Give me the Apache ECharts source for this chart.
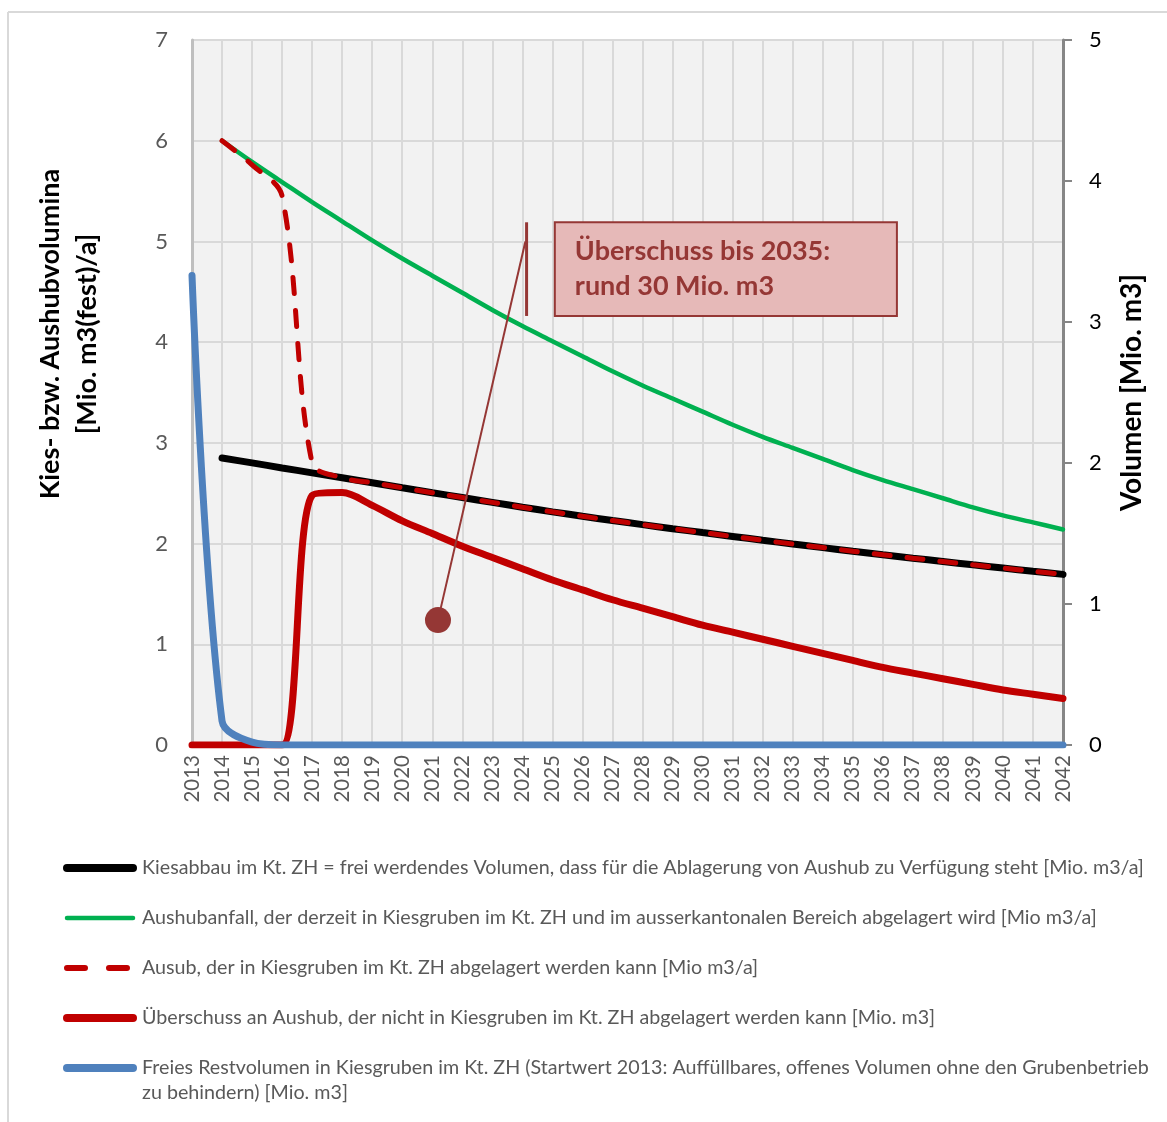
<!DOCTYPE html>
<html>
<head>
<meta charset="utf-8">
<script src="https://cdn.jsdelivr.net/npm/echarts@6/dist/echarts.min.js"></script>
<style>
  html, body { margin: 0; padding: 0; background: #ffffff; }
  #chart { width: 1167px; height: 1122px; }
</style>
</head>
<body>
<div id="chart"></div>
<script>
// Jahre (x-Achse)
const years = [2013, 2014, 2015, 2016, 2017, 2018, 2019, 2020, 2021, 2022,
               2023, 2024, 2025, 2026, 2027, 2028, 2029, 2030, 2031, 2032,
               2033, 2034, 2035, 2036, 2037, 2038, 2039, 2040, 2041, 2042];

// Kiesabbau im Kt. ZH [Mio. m3/a] – linke Achse
const kiesabbau = [null, 2.850, 2.801, 2.751, 2.702, 2.653, 2.604, 2.554, 2.505, 2.457,
                   2.409, 2.361, 2.315, 2.271, 2.229, 2.188, 2.148, 2.109, 2.071, 2.033,
                   1.996, 1.960, 1.924, 1.889, 1.855, 1.822, 1.789, 1.757, 1.725, 1.694];

// Aushubanfall [Mio m3/a] – linke Achse
const aushubanfall = [null, 6.00, 5.79, 5.59, 5.39, 5.20, 5.01, 4.83, 4.66, 4.49,
                      4.32, 4.16, 4.01, 3.86, 3.71, 3.57, 3.44, 3.31, 3.18, 3.06,
                      2.95, 2.84, 2.73, 2.63, 2.54, 2.45, 2.36, 2.28, 2.21, 2.14];

// Aushub, der in Kiesgruben abgelagert werden kann [Mio m3/a] – linke Achse
const ausub = [null, 6.00, 5.76, 5.45, 2.80, 2.653, 2.604, 2.554, 2.505, 2.457,
               2.409, 2.361, 2.315, 2.271, 2.229, 2.188, 2.148, 2.109, 2.071, 2.033,
               1.996, 1.960, 1.924, 1.889, 1.855, 1.822, 1.789, 1.757, 1.725, 1.694];

// Überschuss an Aushub [Mio. m3] – rechte Achse
const ueberschuss = [0, 0, 0, 0, 1.77, 1.79, 1.70, 1.59, 1.50, 1.41,
                     1.33, 1.25, 1.17, 1.10, 1.03, 0.97, 0.91, 0.85, 0.80, 0.75,
                     0.70, 0.65, 0.60, 0.55, 0.51, 0.47, 0.43, 0.39, 0.36, 0.33];

// Freies Restvolumen [Mio. m3] – rechte Achse
const restvolumen = [3.33, 0.17, 0.02, 0, 0, 0, 0, 0, 0, 0,
                     0, 0, 0, 0, 0, 0, 0, 0, 0, 0,
                     0, 0, 0, 0, 0, 0, 0, 0, 0, 0];

// Achsenbereiche
const leftTicks = [0, 1, 2, 3, 4, 5, 6, 7];
const rightTicks = [0, 1, 2, 3, 4, 5];

const legendNames = [
  'Kiesabbau im Kt. ZH = frei werdendes Volumen, dass für die Ablagerung von Aushub zu Verfügung steht [Mio. m3/a]',
  'Aushubanfall, der derzeit in Kiesgruben im Kt. ZH und im ausserkantonalen Bereich abgelagert wird [Mio m3/a]',
  'Ausub, der in Kiesgruben im Kt. ZH abgelagert werden kann [Mio m3/a]',
  'Überschuss an Aushub, der nicht in Kiesgruben im Kt. ZH abgelagert werden kann [Mio. m3]',
  'Freies Restvolumen in Kiesgruben im Kt. ZH (Startwert 2013: Auffüllbares, offenes Volumen ohne den Grubenbetrieb\nzu behindern) [Mio. m3]'
];

const calloutText = 'Überschuss bis 2035:\nrund 30 Mio. m3';

const FONT = 'Lato, "Open Sans", sans-serif';
const C_BLACK = '#000000', C_GREEN = '#00b050', C_RED = '#c00000', C_BLUE = '#4f81bd';
const C_NOTE = '#953735', C_NOTE_FILL = '#e6b9b8';

const pairs = arr => years.map((y, i) => [y, arr[i]]);

const chart = echarts.init(document.getElementById('chart'), null, { renderer: 'canvas' });

const SMOOTH = 0.33;

chart.setOption({
  animation: false,
  backgroundColor: '#ffffff',
  grid: {
    left: 192, right: 104, top: 40, bottom: 377,
    show: true, backgroundColor: '#f2f2f2', borderWidth: 0
  },
  xAxis: {
    type: 'value', min: years[0], max: years[years.length - 1], interval: 1,
    axisLine: { show: true, lineStyle: { color: '#bfbfbf', width: 2 } },
    axisTick: { show: false },
    splitLine: { show: true, lineStyle: { color: '#d9d9d9', width: 2 } },
    axisLabel: {
      rotate: 90, margin: 10, color: '#595959', fontFamily: FONT, fontSize: 20.5,
      formatter: v => String(v)
    }
  },
  yAxis: [
    {
      type: 'value', position: 'left',
      min: leftTicks[0], max: leftTicks[leftTicks.length - 1], interval: 1,
      axisLine: { show: true, lineStyle: { color: '#bfbfbf', width: 3 } },
      axisTick: { show: false },
      splitLine: { show: true, lineStyle: { color: '#d9d9d9', width: 2 } },
      axisLabel: { margin: 24, color: '#595959', fontFamily: FONT, fontSize: 22 }
    },
    {
      type: 'value', position: 'right',
      min: rightTicks[0], max: rightTicks[rightTicks.length - 1], interval: 1,
      axisLine: { show: true, lineStyle: { color: '#868686', width: 3 } },
      axisTick: { show: true, inside: false, length: 9, lineStyle: { color: '#868686', width: 2 } },
      splitLine: { show: false },
      axisLabel: { margin: 26, color: '#000000', fontFamily: FONT, fontSize: 22 },
      name: 'Volumen [Mio. m3]', nameLocation: 'middle', nameRotate: 90, nameGap: 55,
      nameTextStyle: { color: '#000000', fontFamily: FONT, fontSize: 28, fontWeight: 'bold' }
    }
  ],
  series: [
    {
      name: legendNames[0], type: 'line', yAxisIndex: 0, data: pairs(kiesabbau),
      symbol: 'none', smooth: SMOOTH, z: 2,
      lineStyle: { color: C_BLACK, width: 7, cap: 'round' }
    },
    {
      name: legendNames[1], type: 'line', yAxisIndex: 0, data: pairs(aushubanfall),
      symbol: 'none', smooth: SMOOTH, z: 3,
      lineStyle: { color: C_GREEN, width: 4.5, cap: 'round' }
    },
    {
      name: legendNames[2], type: 'line', yAxisIndex: 0, data: pairs(ausub),
      symbol: 'none', smooth: SMOOTH, z: 4,
      lineStyle: { color: C_RED, width: 5, type: [16, 17], cap: 'round' }
    },
    {
      name: legendNames[3], type: 'line', yAxisIndex: 1, data: pairs(ueberschuss),
      symbol: 'none', smooth: SMOOTH, z: 5,
      lineStyle: { color: C_RED, width: 7, cap: 'round' }
    },
    {
      name: legendNames[4], type: 'line', yAxisIndex: 1, data: pairs(restvolumen),
      symbol: 'none', smooth: SMOOTH, z: 6,
      lineStyle: { color: C_BLUE, width: 7, cap: 'round' }
    }
  ]
});

// Hilfsfunktion: Datenkoordinaten (Jahr, Wert linke Achse) -> Pixel
const px = (yr, v) => chart.convertToPixel({ xAxisIndex: 0, yAxisIndex: 0 }, [yr, v]);

const graphics = [];

// Rahmen des Diagrammbereichs
graphics.push({ type: 'line', shape: { x1: 8, y1: 12, x2: 1167, y2: 12 }, style: { stroke: '#d9d9d9', lineWidth: 2 }, z: 1 });
graphics.push({ type: 'line', shape: { x1: 8, y1: 12, x2: 8, y2: 1122 }, style: { stroke: '#d9d9d9', lineWidth: 2 }, z: 1 });

// Titel der linken Achse
graphics.push({
  type: 'text', x: 69, y: 334, rotation: Math.PI / 2,
  style: {
    text: 'Kies- bzw. Aushubvolumina\n[Mio. m3(fest)/a]',
    fill: '#000000', font: 'bold 27px ' + FONT, align: 'center', verticalAlign: 'middle', lineHeight: 37
  }
});

// Hinweis: Überschuss bis 2035
const boxTL = px(2025.08, 5.19), boxBR = px(2036.47, 4.26);
const barTop = px(2024.14, 5.19), barBot = px(2024.14, 4.26);
const leadStart = px(2024.1, 5.0), dot = px(2021.19, 1.24);
graphics.push({
  type: 'rect', z: 100,
  shape: { x: boxTL[0], y: boxTL[1], width: boxBR[0] - boxTL[0], height: boxBR[1] - boxTL[1] },
  style: { fill: C_NOTE_FILL, stroke: C_NOTE, lineWidth: 2 }
});
graphics.push({
  type: 'text', z: 101, x: boxTL[0] + 20, y: (boxTL[1] + boxBR[1]) / 2,
  style: { text: calloutText, fill: C_NOTE, font: 'bold 27px ' + FONT, verticalAlign: 'middle', lineHeight: 35 }
});
graphics.push({
  type: 'line', z: 100, shape: { x1: barTop[0], y1: barTop[1], x2: barBot[0], y2: barBot[1] },
  style: { stroke: C_NOTE, lineWidth: 3 }
});
graphics.push({
  type: 'line', z: 100, shape: { x1: leadStart[0], y1: leadStart[1], x2: dot[0], y2: dot[1] },
  style: { stroke: C_NOTE, lineWidth: 2 }
});
graphics.push({
  type: 'circle', z: 100, shape: { cx: dot[0], cy: dot[1], r: 13 },
  style: { fill: C_NOTE }
});

// Legende
const legendRows = [
  { y: 868, color: C_BLACK, width: 8, dash: null },
  { y: 918, color: C_GREEN, width: 4.5, dash: null },
  { y: 968, color: C_RED, width: 6, dash: [18, 24] },
  { y: 1018, color: C_RED, width: 8, dash: null },
  { y: 1068, color: C_BLUE, width: 8, dash: null }
];
legendRows.forEach((r, i) => {
  graphics.push({
    type: 'line',
    shape: { x1: 67, y1: r.y, x2: r.dash ? 127 : 133, y2: r.y },
    style: { stroke: r.color, lineWidth: r.width, lineCap: 'round', lineDash: r.dash || null }
  });
  graphics.push({
    type: 'text', x: 142, y: r.y - 13,
    style: { text: legendNames[i], fill: '#595959', font: '19.7px ' + FONT, verticalAlign: 'top', lineHeight: 25 }
  });
});

chart.setOption({ graphic: { elements: graphics } });
</script>
</body>
</html>
